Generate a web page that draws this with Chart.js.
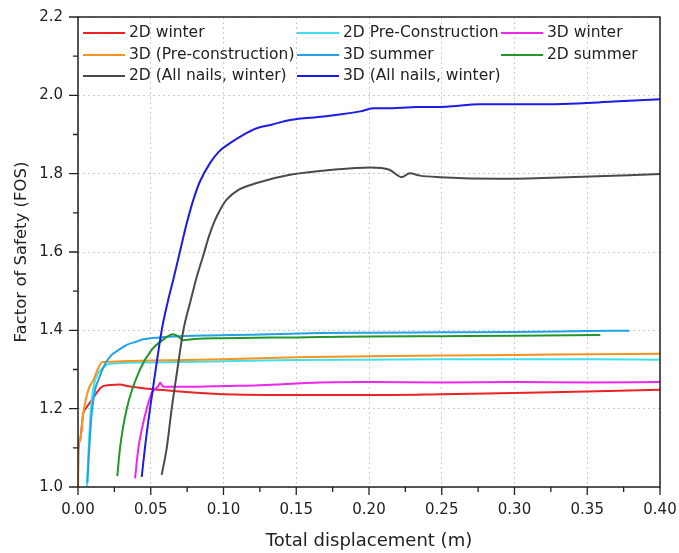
<!DOCTYPE html>
<html>
<head>
<meta charset="utf-8">
<script src="https://cdn.jsdelivr.net/npm/chart.js@4.4.1/dist/chart.umd.min.js"></script>
<style>
  body { margin: 0; background: #fff; }
</style>
</head>
<body>
<canvas id="fosChart" width="679" height="553"></canvas>
<script>
// series (total displacement in m, FOS)
const winter2dX = [0.000, 0.0002, 0.0014, 0.0036, 0.0055, 0.0094, 0.0174, 0.029, 0.0335, 0.0564, 0.079, 0.100, 0.130, 0.166, 0.200, 0.250, 0.300, 0.350, 0.400];
const winter2dY = [1.000, 1.090, 1.120, 1.188, 1.201, 1.222, 1.258, 1.262, 1.258, 1.248, 1.241, 1.237, 1.235, 1.235, 1.235, 1.237, 1.240, 1.244, 1.248];

const preCon2dX = [0.0062, 0.0068, 0.0076, 0.0085, 0.0095, 0.011, 0.013, 0.016, 0.0197, 0.0266, 0.050, 0.100, 0.150, 0.200, 0.250, 0.300, 0.350, 0.400];
const preCon2dY = [1.000, 1.060, 1.120, 1.180, 1.225, 1.262, 1.285, 1.300, 1.312, 1.316, 1.318, 1.321, 1.324, 1.325, 1.326, 1.326, 1.326, 1.325];

const winter3dX = [0.0392, 0.0415, 0.0440, 0.0472, 0.0506, 0.053, 0.0552, 0.0564, 0.0586, 0.065, 0.079, 0.100, 0.125, 0.166, 0.200, 0.250, 0.300, 0.350, 0.400];
const winter3dY = [1.022, 1.100, 1.150, 1.200, 1.239, 1.250, 1.258, 1.266, 1.256, 1.256, 1.256, 1.258, 1.260, 1.267, 1.268, 1.267, 1.268, 1.267, 1.268];

const preCon3dX = [0.000, 0.0002, 0.0014, 0.0036, 0.0071, 0.0105, 0.0135, 0.0163, 0.020, 0.030, 0.050, 0.100, 0.150, 0.200, 0.250, 0.300, 0.350, 0.400];
const preCon3dY = [1.000, 1.095, 1.120, 1.188, 1.248, 1.273, 1.300, 1.318, 1.320, 1.321, 1.323, 1.326, 1.331, 1.334, 1.336, 1.337, 1.339, 1.340];

const summer3dX = [0.0064, 0.0070, 0.0078, 0.0094, 0.0117, 0.014, 0.018, 0.022, 0.028, 0.0335, 0.040, 0.0449, 0.0564, 0.070, 0.090, 0.120, 0.166, 0.200, 0.250, 0.300, 0.350, 0.379];
const summer3dY = [1.011, 1.050, 1.103, 1.188, 1.248, 1.273, 1.310, 1.333, 1.350, 1.363, 1.371, 1.377, 1.382, 1.385, 1.387, 1.389, 1.393, 1.394, 1.395, 1.396, 1.398, 1.399];

const summer2dX = [0.027, 0.0289, 0.0335, 0.0426, 0.0506, 0.058, 0.0655, 0.069, 0.0724, 0.080, 0.100, 0.150, 0.200, 0.250, 0.300, 0.359];
const summer2dY = [1.028, 1.100, 1.200, 1.300, 1.350, 1.375, 1.390, 1.384, 1.375, 1.378, 1.380, 1.382, 1.384, 1.385, 1.386, 1.388];

const allNails2dX = [0.0575, 0.061, 0.0644, 0.0683, 0.0724, 0.077, 0.0815, 0.086, 0.090, 0.094, 0.098, 0.102, 0.110, 0.1228, 0.1457, 0.175, 0.2007, 0.214, 0.2225, 0.228, 0.235, 0.249, 0.290, 0.336, 0.400];
const allNails2dY = [1.031, 1.100, 1.200, 1.300, 1.400, 1.470, 1.535, 1.590, 1.640, 1.680, 1.710, 1.733, 1.758, 1.776, 1.797, 1.810, 1.816, 1.810, 1.791, 1.801, 1.795, 1.791, 1.787, 1.791, 1.799];

const allNails3dX = [0.0438, 0.046, 0.0495, 0.0534, 0.0575, 0.0615, 0.0655, 0.070, 0.0745, 0.079, 0.0838, 0.0907, 0.097, 0.1045, 0.113, 0.1228, 0.133, 0.1457, 0.1686, 0.194, 0.203, 0.210, 0.233, 0.253, 0.276, 0.300, 0.333, 0.368, 0.400];
const allNails3dY = [1.026, 1.100, 1.200, 1.300, 1.400, 1.470, 1.530, 1.600, 1.670, 1.730, 1.780, 1.827, 1.857, 1.878, 1.898, 1.916, 1.925, 1.937, 1.946, 1.959, 1.967, 1.967, 1.970, 1.971, 1.977, 1.977, 1.978, 1.984, 1.990];

const seriesLabels = ['2D winter', '2D Pre-Construction', '3D winter', '3D (Pre-construction)', '3D summer', '2D summer', '2D (All nails, winter)', '3D (All nails, winter)'];
const seriesColors = ['#ee2222', '#3ee0ee', '#f026ee', '#f7931e', '#22a0e8', '#22962a', '#4a4a4a', '#1c1ce6'];
const seriesX = [winter2dX, preCon2dX, winter3dX, preCon3dX, summer3dX, summer2dX, allNails2dX, allNails3dX];
const seriesY = [winter2dY, preCon2dY, winter3dY, preCon3dY, summer3dY, summer2dY, allNails2dY, allNails3dY];

const xTicks = [0, 0.05, 0.10, 0.15, 0.20, 0.25, 0.30, 0.35, 0.40];
const yTicks = [1.0, 1.2, 1.4, 1.6, 1.8, 2.0, 2.2];

const FONT = "'DejaVu Sans', sans-serif";
const TEXT = '#222';

const datasets = seriesLabels.map((label, i) => ({
    label: label,
    data: seriesX[i].map((x, j) => ({ x: x, y: seriesY[i][j] })),
    borderColor: seriesColors[i],
    backgroundColor: seriesColors[i],
    borderWidth: 2,
    pointRadius: 0,
    fill: false,
    cubicInterpolationMode: 'monotone',
    order: seriesLabels.length - i   // later series sit on top, as in the figure
}));

// box around the plot plus outward major/minor tick marks
const frameTicks = {
    id: 'frameTicks',
    afterDraw(chart) {
        const { ctx, chartArea: a, scales: { x, y } } = chart;
        ctx.save();
        ctx.strokeStyle = TEXT;
        ctx.lineWidth = 1.5;
        ctx.strokeRect(a.left, a.top, a.right - a.left, a.bottom - a.top);
        ctx.lineWidth = 1.3;
        ctx.beginPath();
        for (let i = 0; i < xTicks.length * 2 - 1; i++) {
            const px = x.getPixelForValue(i * 0.025);
            const len = i % 2 === 0 ? 8 : 5;
            ctx.moveTo(px, a.bottom);
            ctx.lineTo(px, a.bottom + len);
        }
        for (let i = 0; i < yTicks.length * 2 - 1; i++) {
            const py = y.getPixelForValue(1 + i * 0.1);
            const len = i % 2 === 0 ? 9 : 5;
            ctx.moveTo(a.left, py);
            ctx.lineTo(a.left - len, py);
        }
        ctx.stroke();
        ctx.restore();
    }
};

// three-column legend inside the top of the plot
const insideLegend = {
    id: 'insideLegend',
    afterDatasetsDraw(chart) {
        const ctx = chart.ctx;
        const colX = [83, 297, 501];
        const rowY = [33, 55, 76];
        ctx.save();
        ctx.font = '15.5px ' + FONT;
        ctx.textBaseline = 'middle';
        ctx.fillStyle = TEXT;
        ctx.lineWidth = 2;
        seriesLabels.forEach((label, i) => {
            const cx = colX[i % 3];
            const cy = rowY[Math.floor(i / 3)];
            ctx.strokeStyle = seriesColors[i];
            ctx.beginPath();
            ctx.moveTo(cx, cy);
            ctx.lineTo(cx + 42, cy);
            ctx.stroke();
            ctx.fillText(label, cx + 46, cy);
        });
        ctx.restore();
    }
};

const gridStyle = {
    color: '#cccccc',
    lineWidth: 1,
    drawTicks: false
};

new Chart(document.getElementById('fosChart').getContext('2d'), {
    type: 'line',
    data: { datasets: datasets },
    options: {
        responsive: false,
        animation: false,
        layout: { padding: { top: 17, right: 19, left: 0, bottom: 0 } },
        scales: {
            x: {
                type: 'linear',
                min: 0,
                max: 0.4,
                afterFit: scale => {
                    scale.height = 66;
                    scale.paddingLeft = 0;
                    scale.paddingRight = 0;
                },
                afterBuildTicks: scale => { scale.ticks = xTicks.map(v => ({ value: v })); },
                grid: gridStyle,
                border: { display: false, dash: [2, 3] },
                ticks: {
                    padding: 14,
                    color: TEXT,
                    font: { family: FONT, size: 15 },
                    maxRotation: 0,
                    autoSkip: false,
                    callback: v => v.toFixed(2)
                },
                title: {
                    display: true,
                    text: 'Total displacement (m)',
                    color: TEXT,
                    font: { family: FONT, size: 18 },
                    padding: { top: 0, bottom: 1 }
                }
            },
            y: {
                type: 'linear',
                min: 1.0,
                max: 2.2,
                afterFit: scale => {
                    scale.width = 78;
                    scale.paddingTop = 0;
                    scale.paddingBottom = 0;
                },
                afterBuildTicks: scale => { scale.ticks = yTicks.map(v => ({ value: v })); },
                grid: gridStyle,
                border: { display: false, dash: [2, 3] },
                ticks: {
                    padding: 15,
                    color: TEXT,
                    font: { family: FONT, size: 15 },
                    callback: v => v.toFixed(1)
                },
                title: {
                    display: true,
                    text: 'Factor of Safety (FOS)',
                    color: TEXT,
                    font: { family: FONT, size: 16.5 },
                    padding: { top: 12, bottom: 0 }
                }
            }
        },
        plugins: {
            legend: { display: false },
            tooltip: { enabled: false }
        }
    },
    plugins: [frameTicks, insideLegend]
});
</script>
</body>
</html>
